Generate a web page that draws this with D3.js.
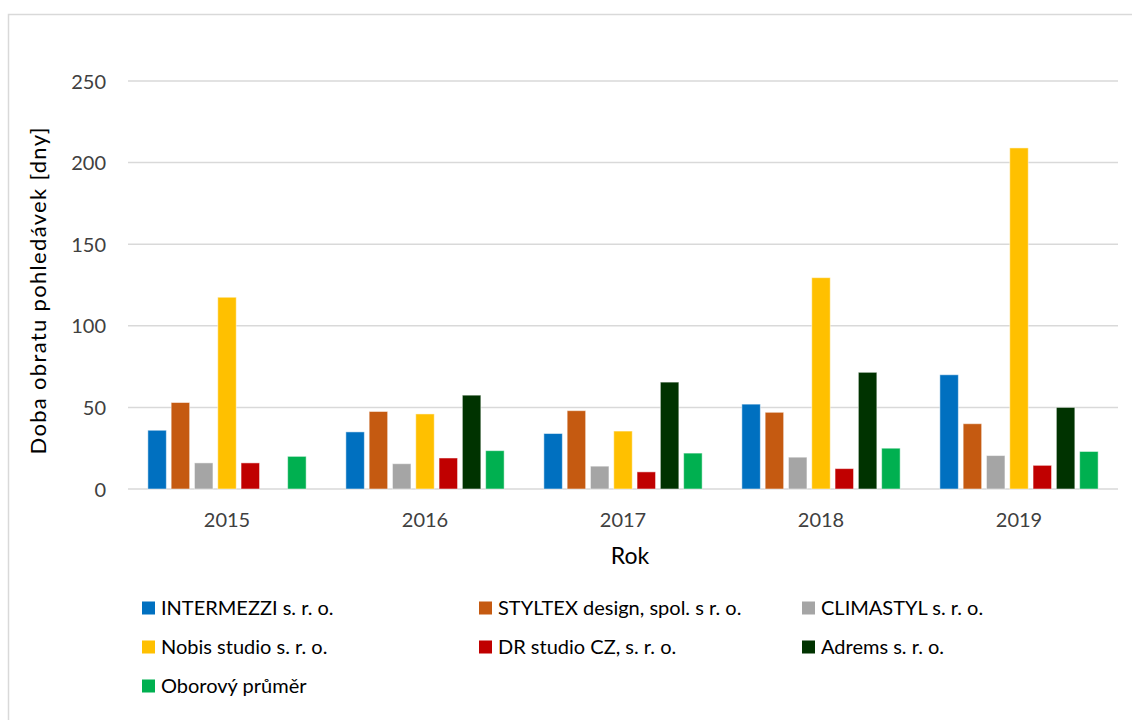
<!DOCTYPE html>
<html>
<head>
<meta charset="utf-8">
<script src="https://cdn.jsdelivr.net/npm/d3@7"></script>
<style>
  html, body { margin: 0; padding: 0; background: #fff; }
  svg { display: block; font-family: Lato, "Open Sans", sans-serif; }
</style>
</head>
<body>
<svg id="chart" width="1132" height="720"></svg>
<script>
// Receivables turnover period (days) per company and year
const years = ["2015", "2016", "2017", "2018", "2019"];
const seriesNames = [
  "INTERMEZZI s. r. o.",
  "STYLTEX design, spol. s r. o.",
  "CLIMASTYL s. r. o.",
  "Nobis studio s. r. o.",
  "DR studio CZ, s. r. o.",
  "Adrems s. r. o.",
  "Oborový průměr"
];
const seriesColors = ["#0070C0", "#C55A11", "#A5A5A5", "#FFC000", "#C00000", "#003300", "#00B050"];

const intermezzi = [36, 35, 34, 52, 70];
const styltex    = [53, 47.5, 48, 47, 40];
const climastyl  = [16, 15.5, 14, 19.5, 20.5];
const nobis      = [117.5, 46, 35.5, 129.5, 209];
const drStudio   = [16, 19, 10.5, 12.5, 14.5];
const adrems     = [null, 57.5, 65.5, 71.5, 50];
const oborovy    = [20, 23.5, 22, 25, 23];
const seriesValues = [intermezzi, styltex, climastyl, nobis, drStudio, adrems, oborovy];

const yTicks = [0, 50, 100, 150, 200, 250];

const svg = d3.select("#chart");

// Outer chart frame
svg.append("rect")
  .attr("x", 8.5).attr("y", 14.5)
  .attr("width", 1140).attr("height", 720)
  .attr("fill", "#fff").attr("stroke", "#d9d9d9").attr("stroke-width", 1.5);

const plot = { left: 128, right: 1118, top: 81, bottom: 489 };

const y = d3.scaleLinear().domain([0, 250]).range([plot.bottom, plot.top]);
const x0 = d3.scaleBand().domain(years).range([plot.left, plot.right]).padding(0);
const x1 = d3.scaleBand().domain(d3.range(seriesNames.length))
  .range([0, x0.bandwidth()])
  .paddingInner(0.206).paddingOuter(0.852);

// Horizontal gridlines
svg.append("g")
  .selectAll("line")
  .data(yTicks)
  .join("line")
  .attr("x1", plot.left).attr("x2", plot.right)
  .attr("y1", d => y(d)).attr("y2", d => y(d))
  .attr("stroke", "#d9d9d9").attr("stroke-width", 1.5);

// Y axis tick labels
const yAxis = d3.axisLeft(y).tickValues(yTicks).tickSize(0).tickPadding(0);
const gy = svg.append("g").attr("transform", `translate(${plot.left - 22},0)`).call(yAxis);
gy.select(".domain").remove();
gy.selectAll("text")
  .attr("font-size", 20).attr("fill", "#404040")
  .attr("font-family", "Lato, sans-serif").attr("dy", "0.35em");

// X axis category labels
const xAxis = d3.axisBottom(x0).tickSize(0).tickPadding(0);
const gx = svg.append("g").attr("transform", `translate(0,${plot.bottom})`).call(xAxis);
gx.select(".domain").remove();
gx.selectAll("text")
  .attr("font-size", 20).attr("fill", "#404040")
  .attr("font-family", "Lato, sans-serif").attr("y", 38).attr("dy", 0);

// Bars
const groups = svg.append("g")
  .selectAll("g")
  .data(years)
  .join("g")
  .attr("transform", d => `translate(${x0(d)},0)`);

groups.selectAll("rect")
  .data((yr, i) => seriesValues.map((vals, s) => ({ s, v: vals[i] })).filter(d => d.v != null))
  .join("rect")
  .attr("x", d => x1(d.s))
  .attr("width", x1.bandwidth())
  .attr("y", d => y(d.v))
  .attr("height", d => y(0) - y(d.v))
  .attr("fill", d => seriesColors[d.s])
  .attr("stroke", "#fff").attr("stroke-opacity", 0.5).attr("stroke-width", 1);

// Axis titles
svg.append("text")
  .attr("x", 630).attr("y", 564)
  .attr("text-anchor", "middle")
  .attr("font-size", 23).attr("fill", "#000")
  .text("Rok");

svg.append("text")
  .attr("transform", `translate(46,${(plot.top + plot.bottom) / 2 + 6}) rotate(-90)`)
  .attr("text-anchor", "middle")
  .attr("font-size", 22).attr("fill", "#000")
  .attr("textLength", 327).attr("lengthAdjust", "spacing")
  .text("Doba obratu pohledávek [dny]");

// Legend
const legendCols = [142, 479, 802];
const legendRows = [608, 647, 686];
const legend = svg.append("g")
  .selectAll("g")
  .data(seriesNames)
  .join("g")
  .attr("transform", (d, i) => `translate(${legendCols[i % 3]},${legendRows[Math.floor(i / 3)]})`);

legend.append("rect")
  .attr("x", 0).attr("y", -6.5)
  .attr("width", 13).attr("height", 13)
  .attr("fill", (d, i) => seriesColors[i]);

legend.append("text")
  .attr("x", 19).attr("y", 0).attr("dy", "0.36em")
  .attr("font-size", 20).attr("fill", "#000")
  .text(d => d);
</script>
</body>
</html>
